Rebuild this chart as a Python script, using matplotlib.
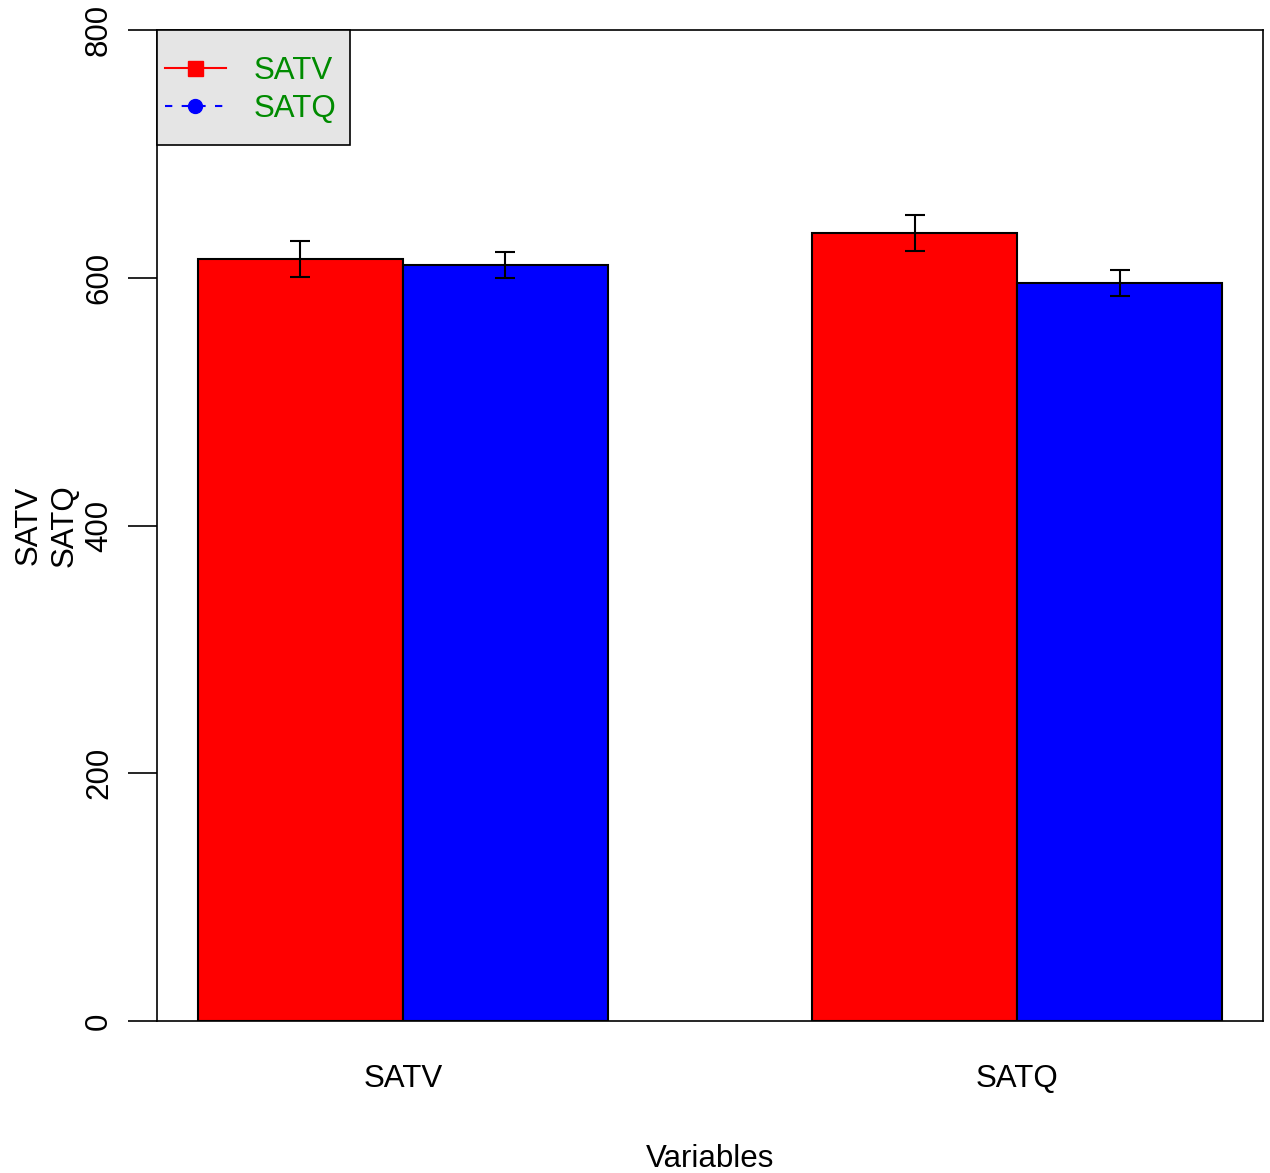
import matplotlib
matplotlib.use("Agg")
import matplotlib.pyplot as plt
from matplotlib.lines import Line2D
from matplotlib.patches import Rectangle
import numpy as np

plt.rcParams["font.family"] = ["Liberation Sans", "DejaVu Sans"]

groups = ["SATV", "SATQ"]
series = ["SATV", "SATQ"]
red_means = [615, 636]
red_err = [14.3, 14.7]
blue_means = [610.5, 596]
blue_err = [10.5, 10.5]
yticks = [0, 200, 400, 600, 800]

FS = 22.5
AX_W, AX_H = 1106, 991  # axes size in pixels

fig = plt.figure(figsize=(12.7, 11.73), dpi=100)
ax = fig.add_axes([157 / 1270, 152 / 1173, AX_W / 1270, AX_H / 1173])

# R-style barplot layout: bars of width 1, one unit gap between groups
base = np.arange(len(groups)) * 3 + 1
red_x = base + 0.5
blue_x = base + 1.5
centers = base + 1.0

ax.bar(red_x, red_means, width=1, color="#FF0000", edgecolor="black", linewidth=1.5)
ax.bar(blue_x, blue_means, width=1, color="#0000FF", edgecolor="black", linewidth=1.5)
ax.errorbar(red_x, red_means, yerr=red_err, fmt="none", ecolor="black",
            elinewidth=1.5, capsize=7, capthick=1.5)
ax.errorbar(blue_x, blue_means, yerr=blue_err, fmt="none", ecolor="black",
            elinewidth=1.5, capsize=7, capthick=1.5)

ax.set_xlim(0.8, 6.2)
ax.set_ylim(0, 800)
ax.set_yticks(yticks)
ax.set_yticklabels([str(v) for v in yticks], rotation=90, va="center", fontsize=FS)
ax.tick_params(axis="y", length=21, width=1.2, pad=10)
ax.set_xticks(centers)
ax.set_xticklabels(groups, fontsize=FS)
ax.tick_params(axis="x", length=0, pad=31)
for s in ax.spines.values():
    s.set_linewidth(1.2)

ax.set_xlabel("Variables", fontsize=FS, labelpad=36)
ax.set_ylabel("SATV\nSATQ", fontsize=FS, labelpad=3, linespacing=1.25)

# legend box (R legend has larger vertical padding than matplotlib allows)
box = Rectangle((0, 1 - 115 / AX_H), 193 / AX_W, 115 / AX_H, transform=ax.transAxes,
                facecolor="#E5E5E5", edgecolor="black", linewidth=1.2,
                zorder=4, clip_on=False)
ax.add_patch(box)

handles = [
    Line2D([], [], color="#FF0000", linestyle="-", marker="s", markersize=10.8, linewidth=1.5),
    Line2D([], [], color="#0000FF", linestyle=(0, (3.5, 4.5)), marker="o", markersize=10, linewidth=1.5),
]
leg = ax.legend(handles, series, loc="upper left", bbox_to_anchor=(0, 1 - 18 / AX_H),
                borderaxespad=0, fontsize=FS, frameon=False,
                handlelength=1.94, handletextpad=0.9,
                labelspacing=0.25, borderpad=0.26)
leg.set_zorder(5)
for t in leg.get_texts():
    t.set_color("#008B00")

fig.savefig("out.png", dpi=100)
